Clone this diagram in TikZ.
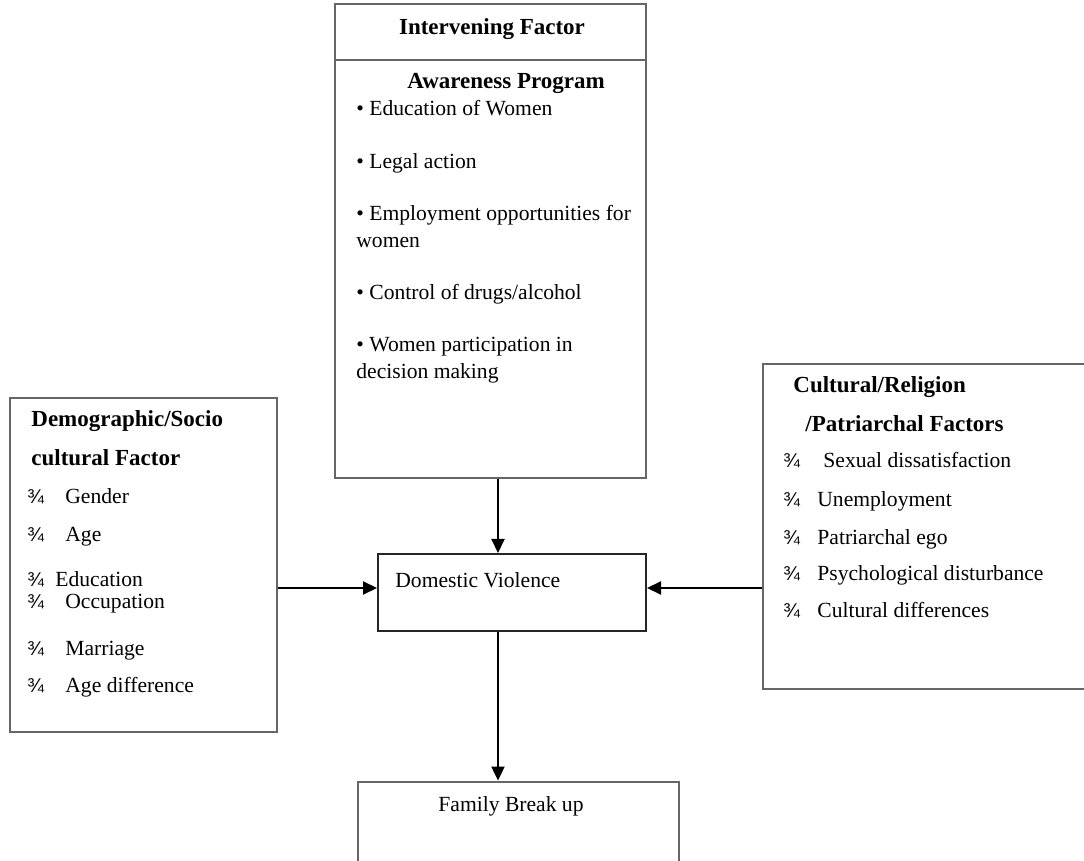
\documentclass[tikz,border=0pt]{standalone}
\usepackage{fontspec}
\setmainfont{Liberation Serif}
\newfontfamily\symfont{Liberation Sans}
\usepackage{tikz}
\usetikzlibrary{arrows.meta,positioning,fit,calc}

\newcommand{\threeq}[1]{\makebox[#1][l]{\symfont\fontsize{10}{11}\selectfont ¾}}

\tikzset{
  rule/.style={draw=black!60, line width=1.4pt},
  box/.style={rectangle, rule, inner sep=0pt},
  txt/.style={anchor=base west, inner sep=0pt, font=\fontsize{10.8}{13}\selectfont},
  head/.style={txt, font=\fontsize{11.5}{13}\selectfont\bfseries},
  arr/.style={-{Triangle[length=7pt,width=6.5pt]}, line width=1pt},
}

\begin{document}
\begin{tikzpicture}[x=0.5pt,y=-0.5pt]
  \useasboundingbox (0,0) rectangle (1084,861);
  \clip (0,0) rectangle (1084,861);

  % boxes
  \node (inter) [box, fit={(335,4) (646,478)}] {};
  \node (demo) [box, fit={(10,398) (277,732)}] {};
  \node (cult) [box, fit={(763,364) (1100,689)}] {};
  \node (dv) [box, draw=black!85, line width=1pt, fit={(378,554) (646,631)}] {};
  \node (fam) [box, fit={(358,782) (679,900)}] {};
  \coordinate (divide) at (0,60);
  \draw[rule] (inter.west |- divide) -- (inter.east |- divide);

  % intervening factor
  \node (interhead) [head, anchor=base] at (492,35) {Intervening Factor};
  \node (awhead) [head] at (407,89) {Awareness Program};
  \node (aw1) [txt] at (356,116) {\textbullet\ Education of Women};
  \node (aw2) [txt] at (356,169) {\textbullet\ Legal action};
  \node (aw3) [txt] at (356,221) {\textbullet\ Employment opportunities for};
  \node (aw3b) [txt] at (356,248) {women};
  \node (aw4) [txt] at (356,300) {\textbullet\ Control of drugs/alcohol};
  \node (aw5) [txt] at (356,352) {\textbullet\ Women participation in};
  \node (aw5b) [txt] at (356,379) {decision making};

  % demographic factors
  \node (demohead) [head] at (31,427) {Demographic/Socio};
  \node (demohead2) [head] at (31,466) {cultural Factor};
  \node (d1) [txt] at (27,504) {\threeq{19pt}Gender};
  \node (d2) [txt] at (27,542) {\threeq{19pt}Age};
  \node (d3) [txt] at (27,587) {\threeq{14pt}Education};
  \node (d4) [txt] at (27,609) {\threeq{19pt}Occupation};
  \node (d5) [txt] at (27,656) {\threeq{19pt}Marriage};
  \node (d6) [txt] at (27,693) {\threeq{19pt}Age difference};

  % cultural factors
  \node (culthead) [head] at (793,393) {Cultural/Religion};
  \node (culthead2) [head] at (805,432) {/Patriarchal Factors};
  \node (c1) [txt] at (783,468) {\threeq{20pt}Sexual dissatisfaction};
  \node (c2) [txt] at (783,507) {\threeq{17pt}Unemployment};
  \node (c3) [txt] at (783,545) {\threeq{17pt}Patriarchal ego};
  \node (c4) [txt] at (783,581) {\threeq{17pt}Psychological disturbance};
  \node (c5) [txt] at (783,618) {\threeq{17pt}Cultural differences};

  % centre
  \node (dvtext) [txt] at (395,588) {Domestic Violence};
  \node (famtext) [txt] at (438,812) {Family Break up};

  % arrows
  \coordinate (spine) at (498,0);
  \coordinate (level) at (0,588);
  \draw[arr] (inter.south -| spine) -- (dv.north -| spine);
  \draw[arr] (demo.east |- level) -- (dv.west |- level);
  \draw[arr] (cult.west |- level) -- (dv.east |- level);
  \draw[arr] (dv.south -| spine) -- (fam.north -| spine);
\end{tikzpicture}
\end{document}
